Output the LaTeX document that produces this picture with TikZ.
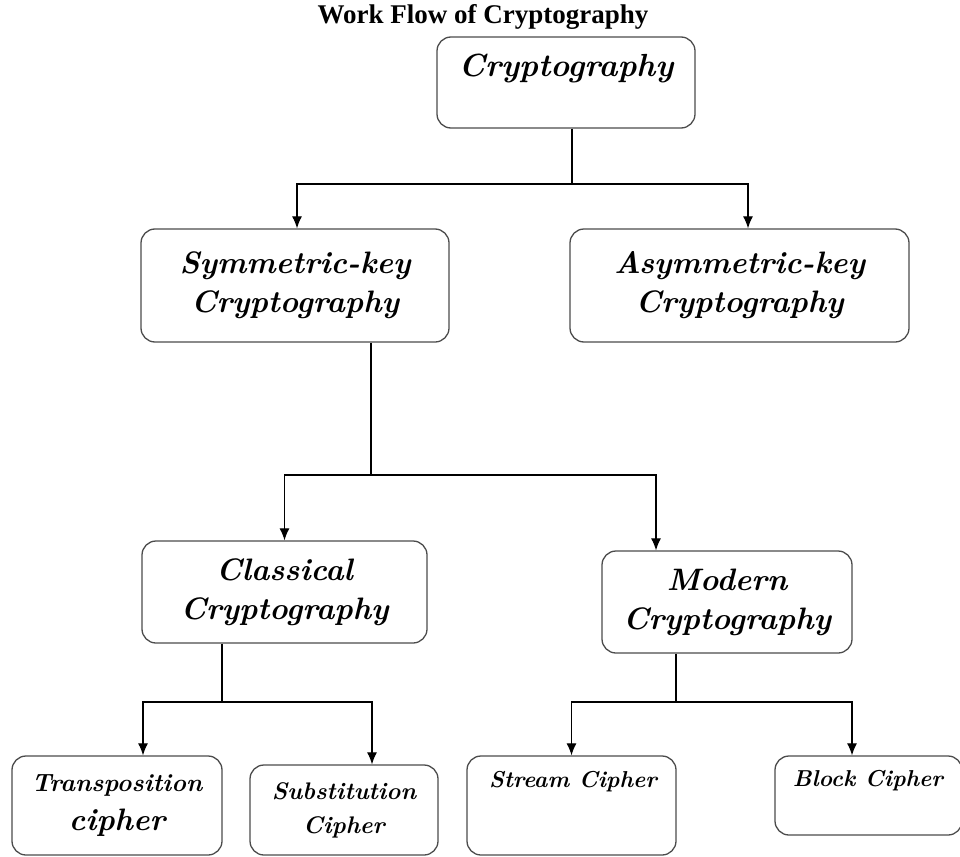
\documentclass[tikz,border=0pt]{standalone}
\usepackage{fontspec}
\newfontfamily\titlefont{Liberation Serif}
\usetikzlibrary{arrows.meta}

\begin{document}
\begin{tikzpicture}[x=1pt, y=-1pt,
  box/.style={draw=black!70, line width=1.3pt, rounded corners=14pt, align=center, inner sep=0pt},
  boxtext/.style={font=\fontsize{31}{39}\selectfont\bfseries\itshape, align=center},
  arr/.style={-{Latex[length=12pt, width=10pt]}, line width=1.2pt}]

\useasboundingbox (0,0) rectangle (960,856);

% title
\node[font=\titlefont\bfseries\fontsize{27}{30}\selectfont] (title) at (483,17) {Work Flow of Cryptography};

% draw boxes
\node[box, minimum width=258pt, minimum height=91pt] (crypto) at (566,82.5) {};
\node[boxtext, font=\fontsize{32}{39}\selectfont\bfseries\itshape] (crypto-txt) at (566,68) {Cryptography};

\node[box, boxtext, minimum width=308pt, minimum height=113pt] (sym) at (295,285.5) {Symmetric-key\\Cryptography};
\node[box, boxtext, minimum width=339pt, minimum height=113pt] (asym) at (739.5,285.5) {Asymmetric-key\\Cryptography};

\node[box, boxtext, minimum width=285pt, minimum height=102pt] (classic) at (284.5,592) {Classical\\Cryptography};
\node[box, boxtext, minimum width=250pt, minimum height=102pt] (modern) at (727,602) {Modern\\Cryptography};

\node[box, boxtext, minimum width=210pt, minimum height=99pt] (transp) at (117,805.5)
  {{\fontsize{25}{36}\selectfont Transposition}\\cipher};
\node[box, boxtext, font=\fontsize{24}{34}\selectfont\bfseries\itshape, minimum width=188pt, minimum height=90pt] (subst) at (344,810) {Substitution\\Cipher};

\node[box, minimum width=209pt, minimum height=99pt] (stream) at (571.5,805.5) {};
\node[boxtext, font=\fontsize{23}{30}\selectfont\bfseries\itshape] (stream-txt) at (573,782) {Stream Cipher};
\node[box, minimum width=187pt, minimum height=79pt] (block) at (868.5,795.5) {};
\node[boxtext, font=\fontsize{23}{30}\selectfont\bfseries\itshape] (block-txt) at (868,781) {Block Cipher};

% draw connectors
\coordinate (j1) at (572,184);
\draw[line width=1.2pt] (crypto.south -| j1) -- (j1);
\draw[arr] (j1) -| ([xshift=2pt]sym.north);
\draw[arr] (j1) -| ([xshift=8.5pt]asym.north);

\coordinate (j2) at (371,475);
\draw[line width=1.2pt] (sym.south -| j2) -- (j2);
\draw[arr] (j2) -| (classic.north);
\draw[arr] (j2) -| ([xshift=-71pt]modern.north);

\coordinate (j3) at (222,702);
\draw[line width=1.2pt] (classic.south -| j3) -- (j3);
\draw[arr] (j3) -| ([xshift=26pt]transp.north);
\draw[arr] (j3) -| ([xshift=28pt]subst.north);

\coordinate (j4) at (676,702);
\draw[line width=1.2pt] (modern.south -| j4) -- (j4);
\draw[arr] (j4) -| (stream.north);
\draw[arr] (j4) -| ([xshift=-16.5pt]block.north);

\end{tikzpicture}
\end{document}
